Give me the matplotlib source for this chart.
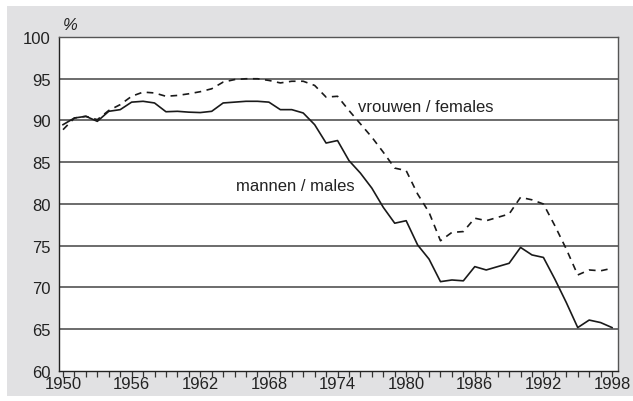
import numpy as np
import matplotlib
matplotlib.use("Agg")
import matplotlib.pyplot as plt
from matplotlib.patches import Rectangle

plt.rcParams["font.family"] = ["Liberation Sans", "DejaVu Sans"]

years = list(range(1950, 1999))
males = [89.5, 90.3, 90.5, 89.9, 91.1, 91.3, 92.2, 92.3, 92.1, 91.05,
         91.1, 91.0, 90.95, 91.1, 92.1, 92.2, 92.3, 92.3, 92.2, 91.3,
         91.3, 90.9, 89.5, 87.3, 87.6, 85.2, 83.7, 81.9, 79.6, 77.7,
         78.0, 75.1, 73.4, 70.7, 70.9, 70.8, 72.5, 72.1, 72.5, 72.9,
         74.8, 73.9, 73.6, 71.0, 68.2, 65.2, 66.1, 65.8, 65.2]
females = [88.9, 90.3, 90.5, 90.1, 91.2, 91.9, 92.9, 93.4, 93.3, 92.9,
           93.0, 93.2, 93.45, 93.8, 94.6, 94.9, 95.0, 95.0, 94.8, 94.5,
           94.7, 94.7, 94.2, 92.8, 92.9, 91.2, 89.6, 88.0, 86.2, 84.3,
           84.0, 81.2, 79.0, 75.6, 76.6, 76.7, 78.3, 78.0, 78.4, 78.8,
           80.8, 80.5, 80.0, 77.4, 74.6, 71.5, 72.1, 72.0, 72.3]
tick_years = [1950, 1956, 1962, 1968, 1974, 1980, 1986, 1992, 1998]
yticks = [60, 65, 70, 75, 80, 85, 90, 95, 100]

fig = plt.figure(figsize=(6.33, 4.02), dpi=100)
fig.patch.set_facecolor("white")
fig.patches.append(Rectangle((7 / 633, 5 / 402), 1 - 7 / 633, 390 / 402,
                             transform=fig.transFigure, facecolor="#e1e1e3",
                             edgecolor="none", zorder=-5))

ax = fig.add_axes([59 / 633, 30 / 402, 559 / 633, 334 / 402])
ax.set_zorder(2)
ax.set_facecolor("white")

for v in yticks[1:]:
    ax.axhline(v, color="#444444", lw=1.1, zorder=1)

ax.plot(years, males, color="#1a1a1a", lw=1.2, zorder=3)
ax.plot(years, females, color="#1a1a1a", lw=1.2, dashes=(4.0, 3.3), zorder=3)

ax.text(1975.8, 91.7, "vrouwen / females", fontsize=12, va="center", ha="left", color="#222222")
ax.text(1965.1, 82.2, "mannen / males", fontsize=12, va="center", ha="left", color="#222222")

ax.set_xlim(1949.65, 1998.52)
ax.set_ylim(60, 100)
ax.set_yticks(yticks)
ax.set_yticklabels([str(v) for v in yticks])
ax.tick_params(axis="y", length=0, pad=6, labelsize=12, labelcolor="#222222")
ax.set_xticks(years, minor=True)
ax.set_xticks(tick_years)
ax.set_xticklabels([str(v) for v in tick_years])
ax.tick_params(axis="x", which="both", direction="out", length=4.5, width=0.9,
               pad=-1, labelsize=12, labelcolor="#222222", color="#333333")

for s in ["left", "bottom"]:
    ax.spines[s].set_color("#222222")
    ax.spines[s].set_linewidth(1.0)
for s in ["top", "right"]:
    ax.spines[s].set_color("#555555")
    ax.spines[s].set_linewidth(1.0)

fig.text(63 / 633, 1 - 25 / 402, "%", fontsize=12, style="italic", va="center", ha="left", color="#222222")

fig.savefig("out.png", dpi=100)
